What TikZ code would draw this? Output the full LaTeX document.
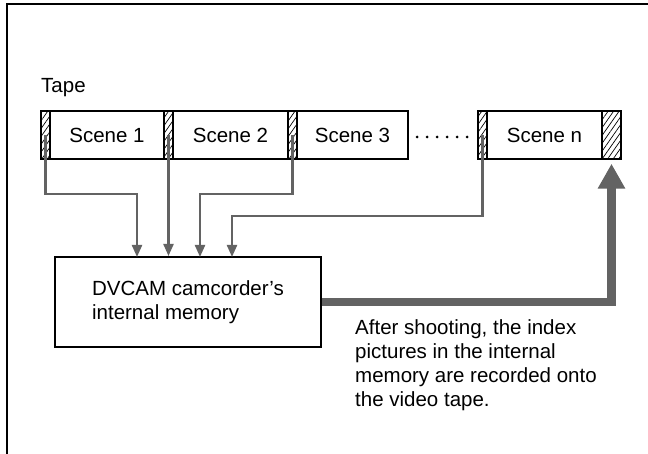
\documentclass[tikz,border=0pt]{standalone}
\usepackage{fontspec}
\setmainfont{Liberation Sans}
\usetikzlibrary{arrows.meta,patterns.meta}
\definecolor{vtGray}{HTML}{636363}
\tikzset{
  vt frame/.style={draw=black, line width=2.6pt},
  vt strip/.style={draw=black, line width=1.5pt, minimum height=48pt, inner sep=0pt,
    pattern={Lines[angle=55,distance=4.5pt,line width=0.7pt]}},
  vt scene/.style={draw=black, line width=1.5pt, minimum height=48pt, inner sep=0pt, font=\fontsize{20.5}{24}\selectfont},
  vt feed/.style={draw=vtGray, line width=2.2pt, -{Triangle[width=10pt,length=12pt]}},
  vt record/.style={draw=vtGray, line width=8.5pt, -{Triangle[width=26pt,length=25pt]}},
  vt box/.style={draw=black, line width=2pt, minimum width=266pt, minimum height=90pt, align=left, inner sep=0pt},
  vt text/.style={font=\fontsize{20.5}{24}\selectfont},
}

\begin{document}
\begin{tikzpicture}[x=1pt,y=-1pt]
  \clip (0,0) rectangle (648,454);
  \draw[vt frame] (7,470) -- (7,4) -- (660,4);
  % tape
  \node[vt text, anchor=base west, inner sep=0pt] (tape) at (41,93) {Tape};
  \node[vt strip, minimum width=9pt] (strip1) at (45.5,135) {};
  \node[vt scene, minimum width=114pt] (scene1) at (107,135) {Scene 1};
  \node[vt strip, minimum width=9pt] (strip2) at (168.5,135) {};
  \node[vt scene, minimum width=115pt] (scene2) at (230.5,135) {Scene 2};
  \node[vt strip, minimum width=9pt] (strip3) at (292.5,135) {};
  \node[vt scene, minimum width=111pt] (scene3) at (352.5,135) {Scene 3};
  \foreach \i in {0,...,5}
    \fill (417+\i*10,137) circle (1.5pt);
  \node[vt strip, minimum width=9pt] (stripn) at (482.5,135) {};
  \node[vt scene, minimum width=115pt] (scenen) at (544.5,135) {Scene n};
  \node[vt strip, minimum width=19pt] (stripe) at (611.5,135) {};
  % memory
  \node[vt box, vt text] (mem) at (188,302) {DVCAM camcorder's\\internal memory};
  \coordinate (in1) at (137,257);
  \coordinate (in3) at (200,257);
  \coordinate (in4) at (232,257);
  \draw[vt feed] (strip1.center) -- ++(0,59) -| (in1);
  \draw[vt feed] (strip2.center) -- (strip2.center |- mem.north);
  \draw[vt feed] (strip3.center) -- ++(0,59) -| (in3);
  \draw[vt feed] (stripn.center) -- ++(0,81) -| (in4);
  \draw[vt record, shorten >=4pt] (mem.east) -| (stripe.south);
  \node[vt text, anchor=north west, align=left, inner sep=0pt] (note) at (355,319)
    {After shooting, the index\\pictures in the internal\\memory are recorded onto\\the video tape.};
\end{tikzpicture}
\end{document}
